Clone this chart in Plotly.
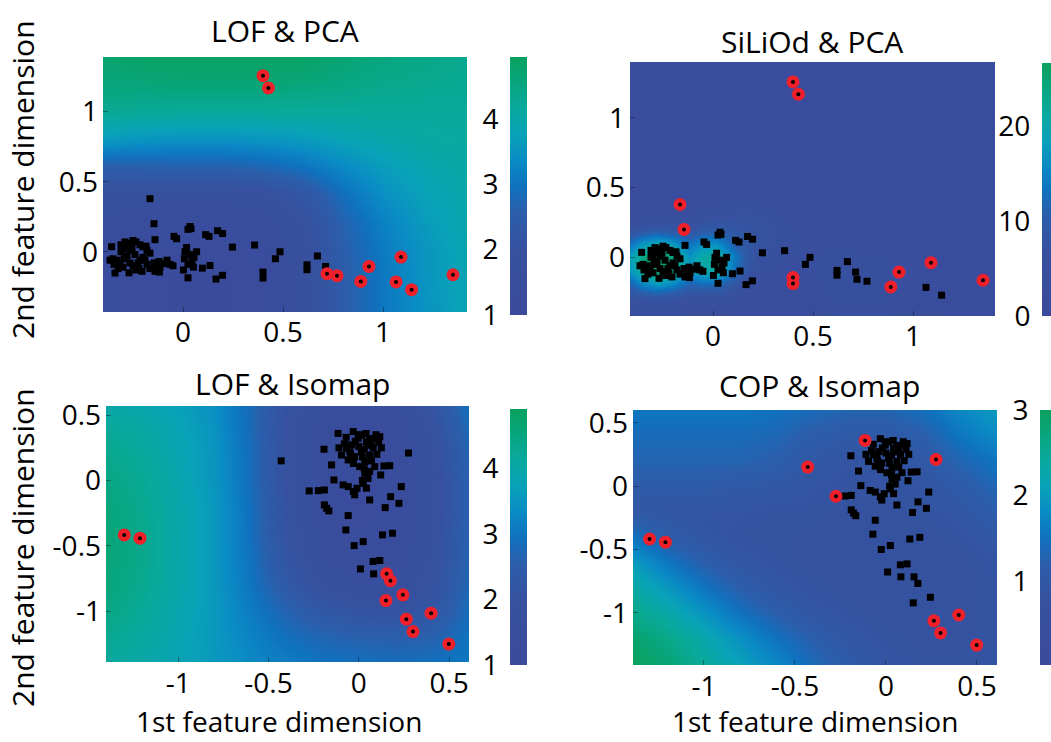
import plotly.graph_objects as go

W, H = 1051, 742

# ---------------- data ----------------
# PCA embedding (shared by the two top panels)
pca_x = [0.40, 0.427, 0.72, 0.77, 0.93, 0.889, 1.09, 1.065, 1.143, 1.35,
         -0.165, -0.145, 0.40, 0.40,
         -0.14, 0.035, 0.04, 0.025, -0.032, 0.13, 0.173, 0.198, 0.247, 0.358,
         0.485, 0.462, 0.672, 0.62, 0.62, 0.713, 0.165, 0.197, 0.025, 0.097,
         0.135, 0.068, 0.055, 0.018, 0.035, 0.007, 0.025, 0.052, 0.002, 0.045,
         0.01, -0.12, -0.115, -0.118, -0.13, -0.095, -0.065, -0.08, -0.05, -0.045,
         0.113, -0.357, -0.34, -0.29, -0.28, -0.265, -0.25, -0.235, -0.215, -0.2,
         -0.18, -0.165, -0.28, -0.265, -0.25, -0.235, -0.215, -0.2, -0.18, -0.165,
         -0.145, -0.3, -0.315, -0.33, -0.35, -0.365, -0.31, -0.24, -0.22, -0.205,
         -0.185, -0.27, -0.325, -0.295, -0.345, -0.19, -0.255, -0.3, -0.225, -0.14,
         -0.31, -0.27]
pca_y = [1.257, 1.169, -0.157, -0.171, -0.105, -0.212, -0.038, -0.215, -0.271, -0.164,
         0.379, 0.2, -0.145, -0.188,
         0.086, 0.18, 0.165, 0.16, 0.093, 0.11, 0.15, 0.13, 0.033, 0.048,
         0.0, -0.05, -0.03, -0.093, -0.128, -0.105, -0.195, -0.168, -0.186, -0.117,
         -0.098, 0.0, -0.04, 0.03, -0.02, -0.05, -0.09, -0.11, -0.13, -0.07,
         0.0, -0.07, -0.11, -0.145, -0.12, -0.085, -0.09, -0.06, -0.1, 0.11,
         0.122, 0.036, -0.152, 0.07, 0.035, 0.01, 0.08, 0.07, 0.05, 0.035,
         0.01, -0.01, -0.03, -0.08, -0.1, -0.13, -0.06, -0.04, -0.09, -0.12,
         -0.08, -0.11, -0.08, -0.06, -0.05, -0.06, 0.0, -0.02, -0.12, -0.14,
         0.04, -0.15, -0.12, -0.05, -0.09, -0.06, 0.03, 0.02, -0.08, -0.14,
         0.05, 0.06]
lof_pca_outliers = [0, 1, 2, 3, 4, 5, 6, 7, 8, 9]
siliod_pca_outliers = [0, 1, 4, 5, 6, 9, 10, 11, 12, 13]

# Isomap embedding (shared by the two bottom panels)
iso_x = [-1.299, -1.212, 0.154, 0.175, 0.15, 0.244, 0.263, 0.30, 0.40, 0.498,
         -0.43, -0.275, -0.115, 0.275,
         -0.224, -0.191, -0.191, -0.178, -0.166, -0.193, -0.151, -0.138, -0.096, -0.068,
         -0.04, -0.031, -0.004, 0.014, 0.042, 0.069, 0.088, 0.116, -0.059, -0.023,
         0.014, 0.06, 0.033, 0.005, 0.033, 0.051, 0.024, 0.088, 0.139, 0.171,
         0.121, -0.087, -0.059, -0.031, -0.023, 0.042, 0.06, 0.146, 0.176, 0.222,
         0.235, -0.059, -0.072, -0.026, 0.024, 0.131, 0.186, 0.079, 0.116, 0.009,
         0.082, -0.08, -0.05, -0.02, 0.0, 0.03, 0.06, 0.08, 0.1, -0.07,
         0.02, -0.03, 0.05, 0.11, 0.0, -0.045, 0.07, 0.095, -0.11, 0.04,
         0.125, 0.03, 0.06, -0.01, 0.02]
iso_y = [-0.417, -0.442, -0.715, -0.767, -0.92, -0.876, -1.062, -1.157, -1.016, -1.253,
         0.15, -0.08, 0.36, 0.21,
         -0.078, -0.073, -0.187, -0.213, -0.233, 0.239, 0.119, 0.004, 0.195, 0.246,
         0.272, 0.374, 0.323, 0.348, 0.297, 0.272, 0.323, 0.335, 0.157, 0.182,
         0.22, 0.195, 0.144, 0.106, 0.055, 0.016, -0.022, 0.106, 0.111, 0.113,
         0.042, -0.034, -0.047, -0.085, -0.11, -0.059, -0.149, -0.208, -0.124, -0.175,
         -0.047, -0.269, -0.379, -0.499, -0.468, -0.417, -0.404, -0.62, -0.613, -0.677,
         -0.715, 0.28, 0.22, 0.3, 0.26, 0.24, 0.32, 0.25, 0.2, 0.33,
         0.18, 0.13, 0.27, 0.29, 0.35, 0.2, 0.15, 0.35, 0.25, 0.36,
         0.25, 0.09, 0.07, -0.06, 0.0]
lof_iso_outliers = [0, 1, 2, 3, 4, 5, 6, 7, 8, 9]
cop_iso_outliers = [0, 1, 6, 7, 8, 9, 10, 11, 12, 13]

# Background score fields (grid values)
lof_pca_gx = [-0.4, -0.2, 0.0, 0.2, 0.4, 0.6, 0.8, 1.0, 1.2, 1.42]
lof_pca_gy = [-0.43, -0.2, 0.0, 0.2, 0.4, 0.6, 0.8, 1.0, 1.2, 1.39]
lof_pca_z = [
    [1.3, 1.2, 1.15, 1.15, 1.25, 1.7, 2.5, 3.05, 3.45, 3.85],
    [1.3, 1.2, 1.15, 1.15, 1.25, 1.7, 2.5, 3.05, 3.5, 3.85],
    [1.35, 1.25, 1.2, 1.2, 1.3, 1.75, 2.55, 3.1, 3.5, 3.9],
    [1.5, 1.4, 1.35, 1.35, 1.45, 1.9, 2.65, 3.2, 3.6, 3.95],
    [1.8, 1.7, 1.65, 1.65, 1.8, 2.2, 2.9, 3.4, 3.75, 4.0],
    [2.5, 2.55, 2.6, 2.6, 2.7, 2.95, 3.3, 3.65, 3.9, 4.05],
    [3.6, 3.5, 3.45, 3.45, 3.5, 3.6, 3.8, 3.95, 4.1, 4.15],
    [4.3, 4.25, 4.2, 4.2, 4.2, 4.2, 4.2, 4.2, 4.2, 4.2],
    [4.6, 4.6, 4.65, 4.65, 4.65, 4.6, 4.5, 4.4, 4.35, 4.3],
    [4.75, 4.85, 4.9, 4.9, 4.9, 4.85, 4.7, 4.55, 4.45, 4.35],
]

siliod_gx = [-0.415, -0.35, -0.28, -0.2, -0.12, -0.05, 0.02, 0.1, 0.18, 0.27,
             0.38, 0.5, 0.65, 0.8, 0.95, 1.1, 1.25, 1.41]
siliod_gy = [-0.42, -0.3, -0.2, -0.1, 0.0, 0.1, 0.2, 0.3, 0.45, 0.7, 1.0, 1.4]
siliod_z = [
    [2.5, 3, 3, 3, 2.5, 2.5, 2.5, 2, 2, 2, 2, 2.5, 3.5, 3.5, 3, 2.5, 2, 2],
    [6, 7, 7.5, 7, 5.5, 5.5, 5.5, 4.5, 3, 2.5, 2.5, 3, 4.5, 4.5, 3.5, 3, 2, 2],
    [11, 15, 17, 15, 11, 12, 12, 8, 4.5, 3, 3, 3.5, 5.5, 5.5, 4, 3.5, 2, 2],
    [17, 23, 25, 23, 17, 20, 21, 14, 7.5, 4, 3.5, 4, 6, 5.5, 4, 3, 2, 2],
    [18, 24, 26, 24, 17, 21, 22, 15, 8.5, 5, 4, 4, 5, 4.5, 3.5, 2.5, 2, 2],
    [13, 17, 19, 17, 13, 16, 16, 11, 8, 6.5, 4.5, 3.5, 3.5, 3, 2.5, 2, 2, 2],
    [6, 8, 9, 8, 7, 9, 9.5, 8.5, 7.5, 6.5, 4.5, 3, 2.5, 2, 2, 2, 2, 2],
    [2.5, 3, 3.5, 3.5, 4, 5, 6, 6.5, 6.5, 5.5, 3.5, 2.5, 2, 2, 2, 2, 2, 2],
    [2, 2, 2, 2, 2.5, 3, 3, 3.5, 3.5, 3, 2.5, 2, 2, 2, 2, 2, 2, 2],
    [2] * 18,
    [2] * 18,
    [2] * 18,
]

lof_iso_gx = [-1.4, -1.2, -1.0, -0.8, -0.6, -0.4, -0.2, 0.0, 0.2, 0.4, 0.61]
lof_iso_gy = [-1.39, -1.2, -1.0, -0.8, -0.6, -0.4, -0.2, 0.0, 0.2, 0.4, 0.57]
lof_iso_z = [
    [4.15, 4.0, 3.8, 3.55, 3.3, 3.1, 2.95, 2.9, 2.85, 2.9, 3.05],
    [4.3, 4.1, 3.85, 3.55, 3.2, 2.9, 2.7, 2.6, 2.55, 2.6, 2.95],
    [4.45, 4.2, 3.9, 3.55, 3.1, 2.65, 2.3, 2.1, 2.05, 2.2, 2.85],
    [4.55, 4.3, 3.95, 3.55, 3.0, 2.35, 1.85, 1.6, 1.65, 1.95, 2.75],
    [4.6, 4.35, 3.95, 3.55, 2.95, 2.15, 1.6, 1.35, 1.45, 1.85, 2.7],
    [4.6, 4.35, 3.95, 3.55, 2.9, 2.05, 1.5, 1.25, 1.35, 1.8, 2.65],
    [4.55, 4.3, 3.95, 3.55, 2.9, 2.0, 1.45, 1.2, 1.3, 1.75, 2.65],
    [4.45, 4.25, 3.9, 3.5, 2.85, 1.95, 1.45, 1.2, 1.3, 1.75, 2.65],
    [4.35, 4.15, 3.85, 3.5, 2.85, 1.95, 1.45, 1.25, 1.35, 1.8, 2.7],
    [4.2, 4.05, 3.8, 3.45, 2.8, 1.95, 1.5, 1.3, 1.4, 1.9, 2.8],
    [4.0, 3.9, 3.7, 3.4, 2.8, 2.0, 1.6, 1.4, 1.5, 2.1, 2.9],
]

cop_iso_gx = [-1.39, -1.2, -1.0, -0.8, -0.6, -0.4, -0.2, 0.0, 0.2, 0.4, 0.61]
cop_iso_gy = [-1.41, -1.2, -1.0, -0.8, -0.6, -0.4, -0.2, 0.0, 0.2, 0.4, 0.6]
cop_iso_z = [
    [3.0, 2.8, 2.45, 2.1, 1.75, 1.4, 1.1, 0.9, 0.85, 0.85, 0.9],
    [2.85, 2.6, 2.25, 1.85, 1.5, 1.2, 0.95, 0.85, 0.8, 0.8, 0.85],
    [2.6, 2.3, 1.9, 1.5, 1.2, 0.95, 0.85, 0.8, 0.8, 0.8, 0.85],
    [2.35, 1.95, 1.55, 1.2, 0.95, 0.85, 0.8, 0.8, 0.8, 0.8, 0.85],
    [2.0, 1.55, 1.2, 0.95, 0.85, 0.8, 0.8, 0.8, 0.8, 0.8, 0.9],
    [1.5, 1.15, 0.95, 0.85, 0.85, 0.8, 0.8, 0.8, 0.8, 0.85, 1.0],
    [1.0, 0.95, 0.9, 0.9, 0.85, 0.85, 0.8, 0.8, 0.85, 0.95, 1.2],
    [1.1, 1.1, 1.1, 1.05, 1.0, 0.9, 0.85, 0.85, 0.9, 1.1, 1.35],
    [1.3, 1.3, 1.3, 1.3, 1.2, 1.0, 0.9, 0.9, 1.0, 1.3, 1.55],
    [1.4, 1.4, 1.4, 1.4, 1.35, 1.15, 1.05, 1.05, 1.2, 1.55, 1.8],
    [1.55, 1.55, 1.55, 1.55, 1.5, 1.4, 1.3, 1.3, 1.45, 1.75, 2.0],
]

titles = ["LOF & PCA", "SiLiOd & PCA", "LOF & Isomap", "COP & Isomap"]
pca_ticks = [0, 0.5, 1]
pca_ticktext = ["0", "0.5", "1"]
iso_xticks = [-1, -0.5, 0, 0.5]
iso_xticktext = ["-1", "-0.5", "0", "0.5"]
iso_yticks = [-1, -0.5, 0, 0.5]
iso_yticktext = ["-1", "-0.5", "0", "0.5"]
cbar_ranges = [(1, 4.95), (0, 26.7), (1, 4.9), (0.02, 3.0)]
cbar_ticks = [[1, 2, 3, 4], [0, 10, 20], [1, 2, 3, 4], [1, 2, 3]]

# ---------------- style / layout ----------------
FONT = "Open Sans"
colorscale = [[0.0, '#3c4a9c'], [0.25, '#36519f'], [0.4, '#2b5eab'], [0.5, '#0f72bf'],
              [0.6, '#0a8cc4'], [0.7, '#09a2b8'], [0.8, '#0aa99f'], [0.9, '#08a67e'],
              [1.0, '#0aa05e']]


def px_x(p):
    return min(1.0, max(0.0, p / W))


def px_y(p):
    return min(1.0, max(0.0, (H - p) / H))


# plot areas in pixels: (left, right, top, bottom)
areas = [(103, 467, 57, 312), (630, 995, 62, 316), (106, 469, 406, 662), (633, 997, 410, 665)]
ranges = [((-0.4, 1.42), (-0.43, 1.39)), ((-0.415, 1.41), (-0.42, 1.40)),
          ((-1.40, 0.61), (-1.39, 0.57)), ((-1.39, 0.61), (-1.41, 0.60))]
# colorbar in pixels: (left, top, bottom)
cbars = [(510, 57, 315), (1042, 63, 316), (510, 409, 665), (1040, 410, 665)]

fields = [(lof_pca_gx, lof_pca_gy, lof_pca_z), (siliod_gx, siliod_gy, siliod_z),
          (lof_iso_gx, lof_iso_gy, lof_iso_z), (cop_iso_gx, cop_iso_gy, cop_iso_z)]
points = [(pca_x, pca_y, lof_pca_outliers), (pca_x, pca_y, siliod_pca_outliers),
          (iso_x, iso_y, lof_iso_outliers), (iso_x, iso_y, cop_iso_outliers)]

fig = go.Figure()
tickfont = dict(family=FONT, size=28, color='black')

for i in range(4):
    n = i + 1
    xa = 'x' if n == 1 else f'x{n}'
    ya = 'y' if n == 1 else f'y{n}'
    gx, gy, z = fields[i]
    zmin, zmax = cbar_ranges[i]
    cl, ct, cb = cbars[i]
    fig.add_trace(go.Heatmap(
        x=gx, y=gy, z=z, zsmooth='best', colorscale=colorscale, zmin=zmin, zmax=zmax,
        xaxis=xa, yaxis=ya, hoverinfo='skip',
        colorbar=dict(x=cl / W, xanchor='left', y=px_y(ct), yanchor='top',
                      len=cb - ct, lenmode='pixels', thickness=17, thicknessmode='pixels',
                      xpad=0, ypad=0, showticklabels=False, ticks='', outlinewidth=0)))
    px_, py_, out = points[i]
    bx = [px_[k] for k in range(len(px_)) if k not in out]
    by = [py_[k] for k in range(len(py_)) if k not in out]
    rx = [px_[k] for k in out]
    ry = [py_[k] for k in out]
    fig.add_trace(go.Scatter(x=bx, y=by, mode='markers', xaxis=xa, yaxis=ya,
                             marker=dict(color='black', size=7, symbol='square', line=dict(width=0)),
                             showlegend=False, hoverinfo='skip'))
    fig.add_trace(go.Scatter(x=rx, y=ry, mode='markers', xaxis=xa, yaxis=ya,
                             marker=dict(color='#f0202a', size=13, line=dict(width=0)),
                             showlegend=False, hoverinfo='skip'))
    fig.add_trace(go.Scatter(x=rx, y=ry, mode='markers', xaxis=xa, yaxis=ya,
                             marker=dict(color='black', size=4, line=dict(width=0)),
                             showlegend=False, hoverinfo='skip'))
    # empty trace on hidden helper axes so the colorbar label axis gets drawn
    fig.add_trace(go.Scatter(x=[None], y=[None], xaxis=f'x{n + 4}', yaxis=f'y{n + 4}',
                             showlegend=False, hoverinfo='skip'))

    l, r, t, b = areas[i]
    (x0, x1), (y0, y1) = ranges[i]
    if i < 2:
        xt, xtt, yt, ytt = pca_ticks, pca_ticktext, pca_ticks, pca_ticktext
    else:
        xt, xtt, yt, ytt = iso_xticks, iso_xticktext, iso_yticks, iso_yticktext
    xkey = 'xaxis' if n == 1 else f'xaxis{n}'
    ykey = 'yaxis' if n == 1 else f'yaxis{n}'
    fig.update_layout(**{
        xkey: dict(domain=[px_x(l), px_x(r)], anchor=ya, range=[x0, x1],
                   tickvals=xt, ticktext=xtt, showgrid=False, zeroline=False,
                   showline=False, ticks='inside', ticklen=5, tickcolor='rgba(0,0,0,0.35)',
                   tickfont=tickfont, ticklabelstandoff=1 if i < 2 else 2),
        ykey: dict(domain=[px_y(b), px_y(t)], anchor=xa, range=[y0, y1],
                   tickvals=yt, ticktext=ytt, showgrid=False, zeroline=False,
                   showline=False, ticks='inside', ticklen=5, tickcolor='rgba(0,0,0,0.35)',
                   tickfont=tickfont, ticklabelstandoff=4),
        f'xaxis{n + 4}': dict(domain=[px_x(cl - 6), px_x(cl)], anchor=f'y{n + 4}',
                              range=[0, 1], visible=False),
        f'yaxis{n + 4}': dict(domain=[px_y(cb), px_y(ct)], anchor='free', position=px_x(cl),
                              side='left', range=[zmin, zmax], tickvals=cbar_ticks[i],
                              showgrid=False, zeroline=False, showline=False,
                              ticks='outside', ticklen=0,
                              tickfont=tickfont, ticklabelstandoff=6),
    })

annotations = []
title_pos = [(285, 30), (812, 42), (292, 383), (819, 385)]
for (tx, ty), txt in zip(title_pos, titles):
    annotations.append(dict(text=txt, x=px_x(tx), y=px_y(ty), xref='paper', yref='paper',
                            xanchor='center', yanchor='middle', showarrow=False,
                            font=dict(family=FONT, size=30, color='black')))
for ty in (180, 548):
    annotations.append(dict(text="2nd feature dimension", x=px_x(22), y=px_y(ty),
                            xref='paper', yref='paper', xanchor='center', yanchor='middle',
                            textangle=-90, showarrow=False,
                            font=dict(family=FONT, size=30, color='black')))
for tx in (279, 815):
    annotations.append(dict(text="1st feature dimension", x=px_x(tx), y=px_y(721),
                            xref='paper', yref='paper', xanchor='center', yanchor='middle',
                            showarrow=False, font=dict(family=FONT, size=28, color='black')))

fig.update_layout(width=W, height=H, autosize=False,
                  margin=dict(l=0, r=0, t=0, b=0, pad=0, autoexpand=False),
                  paper_bgcolor='white', plot_bgcolor='rgba(0,0,0,0)',
                  showlegend=False, annotations=annotations,
                  font=dict(family=FONT, color='black'))

fig.write_html("out.html", config={'displayModeBar': False})
